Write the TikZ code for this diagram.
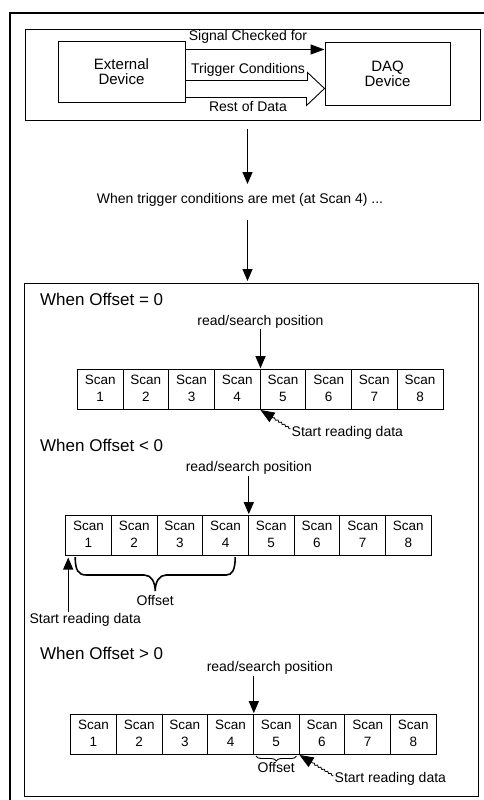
\documentclass[tikz,border=0pt]{standalone}
\usepackage{fontspec}
\setmainfont{Liberation Sans}
\usetikzlibrary{matrix,positioning,calc,arrows.meta,decorations.pathreplacing,decorations.pathmorphing}

\newcommand{\smallfont}{\fontsize{14}{16}\selectfont}
\newcommand{\cellfont}{\fontsize{13.5}{17}\selectfont}
\newcommand{\boxfont}{\fontsize{15}{15}\selectfont}
\newcommand{\headfont}{\fontsize{17}{20}\selectfont}
\newcommand{\scancell}[1]{\begin{tabular}{@{}c@{}}Scan\\#1\end{tabular}}

\begin{document}
\begin{tikzpicture}[x=1pt, y=-1pt,
    frame/.style={draw, line width=1pt, inner sep=0pt, anchor=north west},
    box/.style={draw, line width=1pt, inner sep=0pt, align=center, font=\boxfont},
    lbl/.style={inner sep=1pt, font=\smallfont},
    head/.style={inner sep=0pt, anchor=west, font=\headfont},
    scans/.style={matrix of nodes, inner sep=0pt, column sep=-.8pt, anchor=north west,
        nodes={draw, line width=.8pt, minimum width=45.7pt, minimum height=40pt, inner sep=0pt, font=\cellfont}},
    dn/.style={-{Triangle[length=12pt,width=10pt]}, line width=1.1pt},
    sig/.style={-{Triangle[length=14pt,width=10pt]}, line width=1.2pt},
    start/.style={-{Triangle[length=14pt,width=11pt]}, line width=.8pt, decorate,
        decoration={snake, amplitude=.8pt, segment length=4pt, post length=14pt}},
    curly/.style={line width=1.6pt}
]
    \useasboundingbox (0,0) rectangle (483,800);

    % outer frame (runs off the page)
    \draw[line width=2pt] (10,815) -- (10,13) -- (495,13);

    % Top part
    \node (top) [frame, minimum width=455pt, minimum height=91pt] at (25,29) {};
    \node (ext) [box, minimum width=127pt, minimum height=60pt] at (121.5,72) {External\\Device};
    \node (daq) [box, minimum width=125pt, minimum height=62pt] at (387.5,74) {DAQ\\Device};

    \node (sigA) [lbl] at (248,37) {Signal Checked for};
    \node (sigB) [lbl] at (248,70) {Trigger Conditions};
    \node (rest) [lbl] at (248,107) {Rest of Data};

    \draw[sig] ([yshift=-8pt]ext.north east) -- ([yshift=-7pt]daq.north west);
    \draw[line width=.9pt, line join=miter] ([yshift=22pt]ext.south east) -- ++(122,0) -- ++(0,-8)
        -- ([yshift=17pt]daq.south west) -- ++(-18,17) -- ++(0,-8) -- ([yshift=5pt]ext.south east);

    \draw[dn] ([xshift=-5.5pt,yshift=-8pt]top.south) -- ++(0,55);
    \node (trig) [lbl] at (240,200) {When trigger conditions are met (at Scan 4) ...};

    % Lower part
    \node (low) [frame, minimum width=454pt, minimum height=513pt] at (24,283) {};
    \draw[dn] ([xshift=-4pt,yshift=63pt]low.north) -- ([xshift=-4pt,yshift=2pt]low.north);

    % Offset = 0
    \node (offA) [head] at (40,299) {When Offset = 0};
    \matrix (A) [scans] at (76.7,369) {
        \scancell{1} & \scancell{2} & \scancell{3} & \scancell{4} & \scancell{5} & \scancell{6} & \scancell{7} & \scancell{8} \\
    };
    \node (rsA) [lbl, above=40pt of A-1-4.north east] {read/search position};
    \draw[dn, shorten >=1pt] (rsA.south) -- (A-1-4.north east);
    \node (srA) [lbl, below right=15pt and 30pt of A-1-4.south east] {Start reading data};
    \draw[start] ([yshift=4pt]srA.west) -- (A-1-4.south east);

    % Offset < 0
    \node (offB) [head] at (40,445) {When Offset < 0};
    \matrix (B) [scans] at (65,515) {
        \scancell{1} & \scancell{2} & \scancell{3} & \scancell{4} & \scancell{5} & \scancell{6} & \scancell{7} & \scancell{8} \\
    };
    \node (rsB) [lbl, above=39.5pt of B-1-4.north east] {read/search position};
    \draw[dn, shorten >=1pt] (rsB.south) -- (B-1-4.north east);
    \draw[curly] ([xshift=10pt,yshift=-1pt]B-1-1.south west)
        .. controls +(0,13) and +(-8,0) .. ++(11,18) -- ++(58,0)
        .. controls +(7,0) and +(0,-9) .. ++(11,16) coordinate (tipB)
        .. controls +(0,-9) and +(-7,0) .. ++(11,-16) -- ++(60,0)
        .. controls +(6,0) and +(0,13) .. ++(9,-18);
    \node (ofsB) [lbl, below=3pt of tipB] {Offset};
    \node (srB) [lbl, below=56pt of B-1-1.south west, xshift=20pt] {Start reading data};
    \coordinate (upB) at ([xshift=3pt]B-1-1.south west);
    \draw[dn, shorten >=1.5pt] (srB.north -| upB) -- (upB);

    % Offset > 0
    \node (offC) [head] at (40,653) {When Offset > 0};
    \matrix (C) [scans] at (70,714) {
        \scancell{1} & \scancell{2} & \scancell{3} & \scancell{4} & \scancell{5} & \scancell{6} & \scancell{7} & \scancell{8} \\
    };
    \node (rsC) [lbl, above=38.5pt of C-1-4.north east, xshift=16pt] {read/search position};
    \draw[dn, shorten >=1pt] (rsC.south -| C-1-4.north east) -- (C-1-4.north east);
    \draw[decorate, decoration={brace, mirror, amplitude=5pt}, line width=.9pt]
        ([xshift=3pt,yshift=-1pt]C-1-5.south west) -- ([xshift=-3pt,yshift=-1pt]C-1-5.south east);
    \node (ofsC) [lbl, below=6.5pt of C-1-5.south] {Offset};
    \node (srC) [lbl, below right=16pt and 34pt of C-1-5.south east] {Start reading data};
    \draw[start] ([yshift=3pt]srC.west) -- (C-1-5.south east);
\end{tikzpicture}
\end{document}
